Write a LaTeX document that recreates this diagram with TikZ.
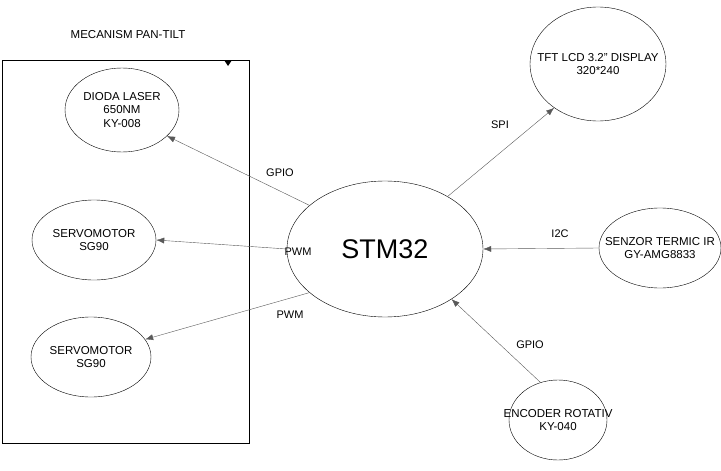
\documentclass[tikz,border=0pt]{standalone}
\usepackage{fontspec}
\setmainfont{Liberation Sans}
\usetikzlibrary{shapes.geometric}
\usetikzlibrary{arrows.meta}

\begin{document}
\begin{tikzpicture}[x=1pt, y=-1pt,
    every node/.style={font=\fontsize{11.5}{13.5}\selectfont},
    blob/.style={ellipse, draw=black, inner sep=0pt},
    txt/.style={align=center, inner sep=0pt},
    link/.style={draw=black!65, -{Latex[length=8pt, width=6pt]}},
    tag/.style={font=\fontsize{11}{12}\selectfont}
]
    \useasboundingbox (0,0) rectangle (721,471);

    % Pan-tilt frame
    \draw (2,60) rectangle (249,443);
    \node[] (title) at (128,35) {MECANISM PAN-TILT};
    \fill (224,60) -- (232,60) -- (228,66) -- cycle;

    % Nodes
    \node[blob, minimum width=114pt, minimum height=84pt] (laser) at (122,110) {};
    \node[txt] (laserT) at (laser) {DIODA LASER\\650NM\\KY-008};
    \node[blob, minimum width=124pt, minimum height=80pt] (servoA) at (94,240) {};
    \node[txt] (servoAT) at (servoA) {SERVOMOTOR\\SG90};
    \node[blob, minimum width=120pt, minimum height=80pt] (servoB) at (91,357) {};
    \node[txt] (servoBT) at (servoB) {SERVOMOTOR\\SG90};
    \node[blob, minimum width=196pt, minimum height=136pt] (stm) at (385,249) {};
    \node[txt, font=\fontsize{27}{30}\selectfont] (stmT) at (stm) {STM32};
    \node[blob, minimum width=136pt, minimum height=114pt] (tft) at (598,64) {};
    \node[txt] (tftT) at (tft) {TFT LCD 3.2" DISPLAY\\320*240};
    \node[blob, minimum width=122pt, minimum height=80pt] (ir) at (660,248) {};
    \node[txt] (irT) at (ir) {SENZOR TERMIC IR\\GY-AMG8833};
    \node[blob, minimum width=98pt, minimum height=80pt] (enc) at (558,420) {};
    \node[txt] (encT) at (enc) {ENCODER ROTATIV\\KY-040};

    % Connections
    \draw[link] (stm.150) -- (laser.-30);
    \draw[link] (stm.west) -- (servoA.east);
    \draw[link] (stm.-150) -- (servoB.18);
    \draw[link] (stm.40) -- (tft.-135);
    \draw[link] (ir.west) -- (stm.east);
    \draw[link] (enc.115) -- (stm.-37);

    % Labels
    \node[tag] (lg1) at (280,173) {GPIO};
    \node[tag] (lp1) at (298,252) {PWM};
    \node[tag] (lp2) at (290,315) {PWM};
    \node[tag] (ls) at (500,125) {SPI};
    \node[tag] (li) at (560,234) {I2C};
    \node[tag] (lg2) at (530,345) {GPIO};
\end{tikzpicture}
\end{document}
